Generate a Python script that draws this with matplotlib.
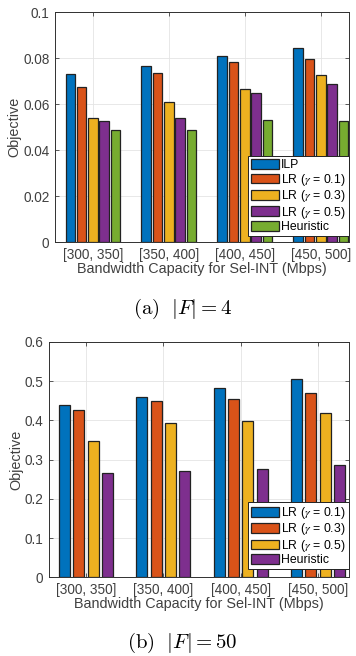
import numpy as np
import matplotlib
matplotlib.use('Agg')
import matplotlib.pyplot as plt

groups = ['[300, 350]', '[350, 400]', '[400, 450]', '[450, 500]']

# |F| = 4
labels_a = ['ILP', 'LR ($\\gamma$ = 0.1)', 'LR ($\\gamma$ = 0.3)', 'LR ($\\gamma$ = 0.5)', 'Heuristic']
ilp_a = [0.0732, 0.0768, 0.0809, 0.0843]
lr01_a = [0.0675, 0.0735, 0.0784, 0.0798]
lr03_a = [0.0542, 0.0610, 0.0668, 0.0726]
lr05_a = [0.0527, 0.0539, 0.0649, 0.0690]
heur_a = [0.0487, 0.0490, 0.0530, 0.0529]

# |F| = 50
labels_b = ['LR ($\\gamma$ = 0.1)', 'LR ($\\gamma$ = 0.3)', 'LR ($\\gamma$ = 0.5)', 'Heuristic']
lr01_b = [0.440, 0.4595, 0.482, 0.506]
lr03_b = [0.426, 0.448, 0.453, 0.470]
lr05_b = [0.347, 0.393, 0.397, 0.419]
heur_b = [0.267, 0.271, 0.277, 0.2875]

colors = ['#0072BD', '#D95319', '#EDB120', '#7E2F8E', '#77AC30']
txt = '#404040'

plt.rcParams['font.family'] = ['Liberation Sans', 'DejaVu Sans']
plt.rcParams['mathtext.fontset'] = 'stix'


def draw(ax, series, labels, pitch, width, ymax, ystep, xlim, anchor):
    x = np.arange(1, len(groups) + 1)
    n = len(series)
    for i, vals in enumerate(series):
        off = (i - (n - 1) / 2) * pitch
        ax.bar(x + off, vals, width, color=colors[i], edgecolor='#222222',
               linewidth=0.9, label=labels[i], zorder=3)
    ax.set_xlim(*xlim)
    ax.set_ylim(0, ymax)
    ax.set_yticks(np.arange(0, ymax + ystep / 2, ystep))
    ax.set_yticklabels(['0'] + ['%g' % v for v in np.arange(ystep, ymax + ystep / 2, ystep)])
    ax.set_xticks(x)
    ax.set_xticklabels(groups)
    ax.grid(True, color='#e4e4e4', linewidth=0.6, zorder=0)
    ax.set_axisbelow(True)
    ax.tick_params(direction='in', length=3, width=0.6, colors=txt, labelsize=9.8,
                   top=True, right=True, labelcolor=txt, pad=4)
    for s in ax.spines.values():
        s.set_color('#303030')
        s.set_linewidth(0.7)
    ax.set_xlabel('Bandwidth Capacity for Sel-INT (Mbps)', fontsize=10.4, color=txt, labelpad=0)
    ax.set_ylabel('Objective', fontsize=10.4, color=txt, labelpad=1)
    leg = ax.legend(loc='lower right', bbox_to_anchor=anchor, borderaxespad=0,
                    fontsize=8.8, fancybox=False, framealpha=1, edgecolor='#222222',
                    handlelength=2.3, handleheight=0.85, handletextpad=0.2,
                    labelspacing=0.03, borderpad=0.25)
    leg.get_frame().set_linewidth(0.7)
    leg.set_zorder(5)


fig = plt.figure(figsize=(3.56, 6.56), dpi=100)

ax1 = fig.add_axes([0.1545, 0.6306, 0.8255, 0.3506])
draw(ax1, [ilp_a, lr01_a, lr03_a, lr05_a, heur_a], labels_a, 0.149, 0.127,
     0.1, 0.02, (0.5, 4.37), (1.0, 0.027))

ax2 = fig.add_axes([0.1376, 0.1197, 0.8424, 0.3594])
draw(ax2, [lr01_b, lr03_b, lr05_b, heur_b], labels_b, 0.185, 0.142,
     0.6, 0.1, (0.52, 4.40), (1.0, 0.035))

# captions in Computer Modern like the LaTeX document
fig.text(183 / 356, 1 - 309 / 656, '$\\mathrm{(a)}\\ \\ |F| = 4$', ha='center',
         va='center', fontsize=15, math_fontfamily='cm')
fig.text(182 / 356, 1 - 643 / 656, '$\\mathrm{(b)}\\ \\ |F| = 50$', ha='center',
         va='center', fontsize=15, math_fontfamily='cm')

fig.savefig('out.png', dpi=100)
